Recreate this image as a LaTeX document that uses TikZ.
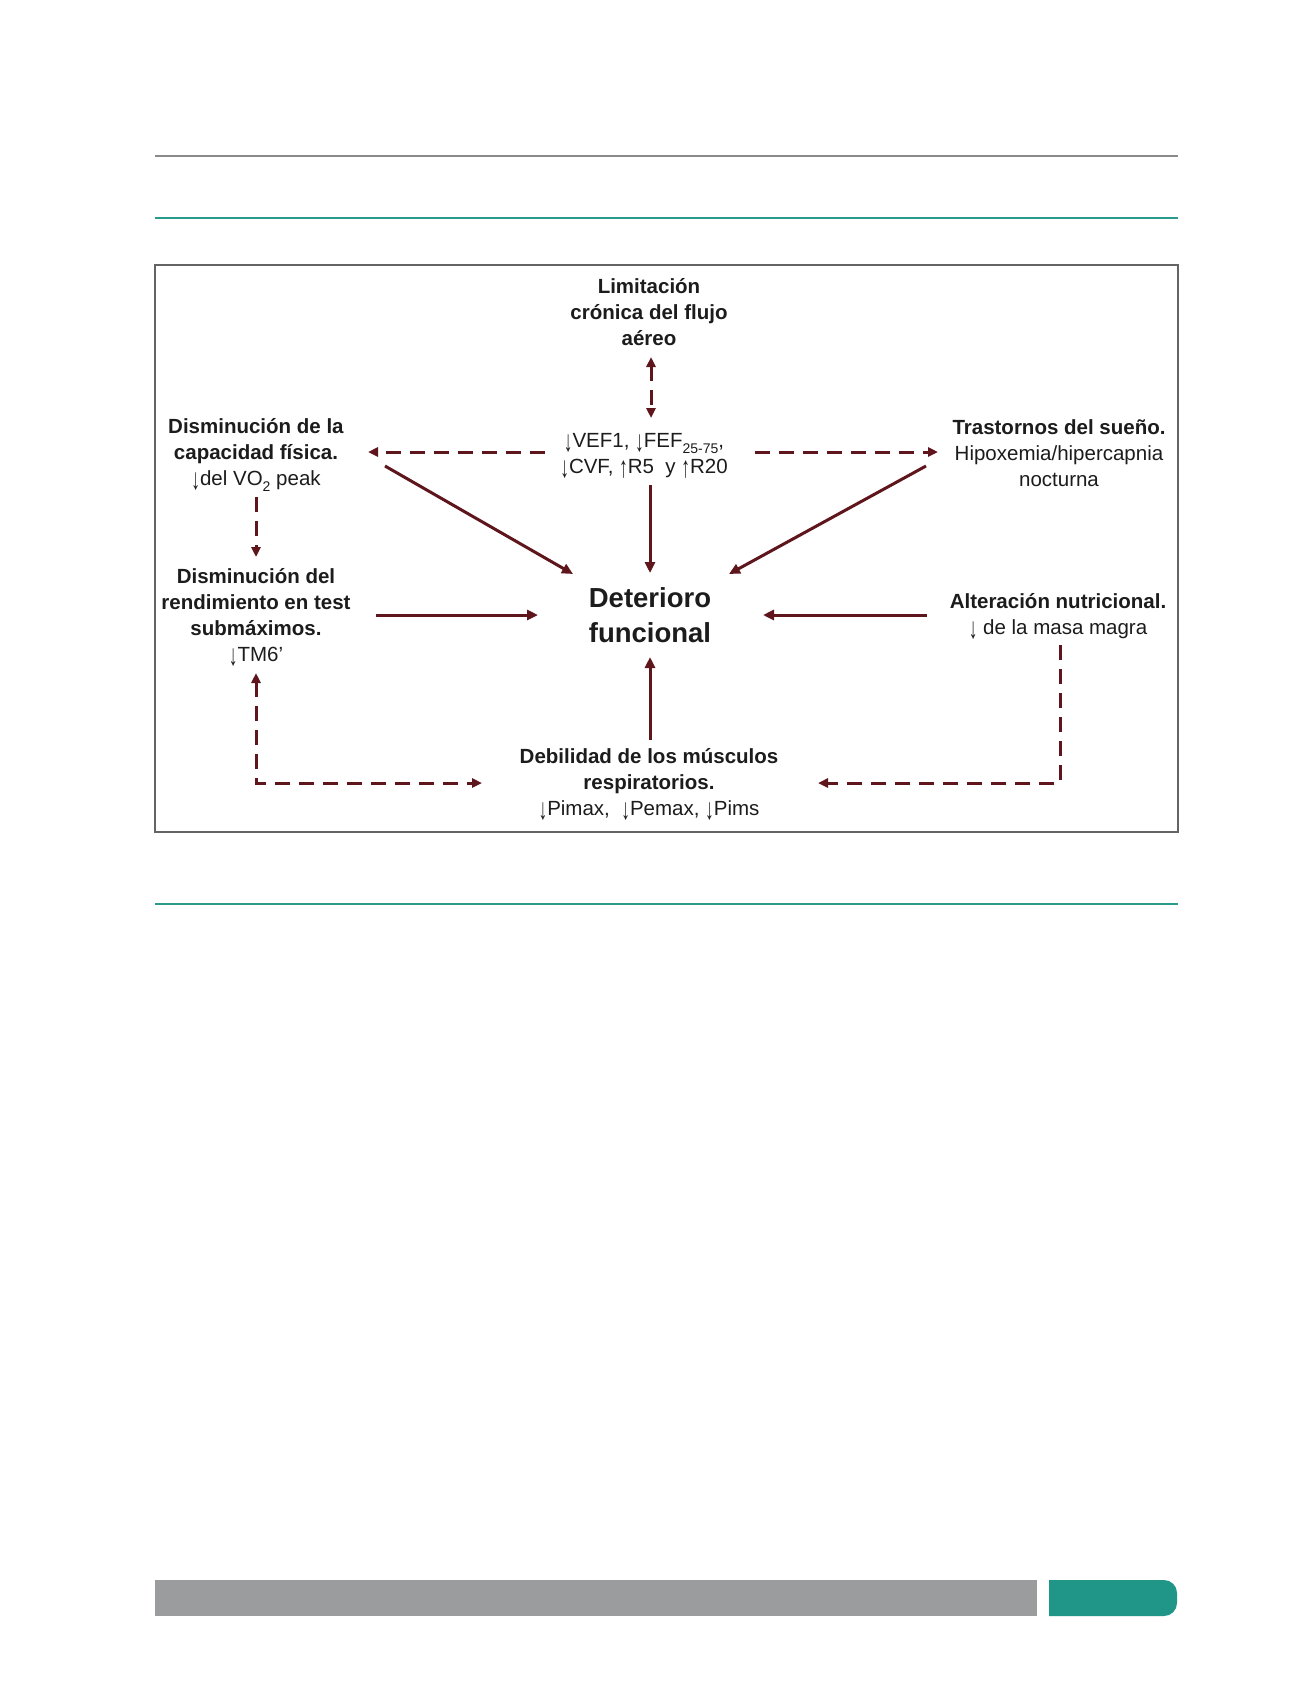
\documentclass[tikz,border=0pt]{standalone}
\usepackage{graphicx}
\usepackage{fontspec}
\setmainfont{Liberation Sans}
\usetikzlibrary{arrows.meta,calc}
\definecolor{arr}{RGB}{94,22,28}
\definecolor{txt}{RGB}{28,28,28}
\definecolor{tealline}{RGB}{42,154,140}
\definecolor{tealbar}{RGB}{31,150,136}
\definecolor{greybar}{RGB}{154,156,157}
\definecolor{greyline}{RGB}{138,138,138}
\definecolor{boxline}{RGB}{100,100,100}
\newcommand\sbs[1]{\raisebox{-0.28em}{\fontsize{14}{14}\selectfont #1}}
\newcommand\dnar{\raisebox{-0.2em}{\scalebox{0.85}[1.45]{↓}}}
\newcommand\upar{\raisebox{-0.2em}{\scalebox{0.85}[1.45]{↑}}}
\begin{document}
\begin{tikzpicture}[x=1pt,y=-1pt,
  lbl/.style={align=center,inner sep=0pt,outer sep=0pt,text=txt,font=\fontsize{20.5}{26}\selectfont},
  biglbl/.style={align=center,inner sep=0pt,outer sep=0pt,text=txt,font=\fontsize{27.5}{35}\selectfont\bfseries},
  solidarrow/.style={draw=arr,line width=3pt,-{Triangle[length=11pt,width=10pt]}},
  dasharrow/.style={draw=arr,line width=3pt,dash pattern=on 15pt off 9pt,-{Triangle[length=10pt,width=9pt]}},
  dashboth/.style={draw=arr,line width=3pt,dash pattern=on 15pt off 9pt,{Triangle[length=10pt,width=9pt]}-{Triangle[length=10pt,width=9pt]}}
]
\useasboundingbox (0,0) rectangle (1301,1703);
\fill[white] (0,0) rectangle (1301,1703);

% page decorations
\draw[greyline,line width=2.2pt] (155,156) -- (1178,156);
\draw[tealline,line width=2.5pt] (155,218) -- (1178,218);
\draw[tealline,line width=2.5pt] (155,904) -- (1178,904);
\draw[boxline,line width=2.8pt] (155,265) rectangle (1178,832);
\fill[greybar] (155,1580) rectangle (1037,1616);
\fill[tealbar] (1049,1580) -- (1120,1580) [rounded corners=13pt] -- (1177,1580) -- (1177,1616) -- (1120,1616) [sharp corners] -- (1049,1616) -- cycle;

% nodes
\node[lbl] (lim) at (649,312) {\textbf{Limitación}\\\textbf{crónica del flujo}\\\textbf{aéreo}};
\node[lbl] (spiro) at (644,456) {\dnar VEF1, \dnar FEF\sbs{25-75},\\\dnar CVF, \upar R5\ \ y \upar R20};
\node[lbl] (fis) at (256,455) {\textbf{Disminución de la}\\\textbf{capacidad física.}\\\dnar del VO\sbs{2} peak};
\node[lbl] (sueno) at (1059,453) {\textbf{Trastornos del sueño.}\\Hipoxemia/hipercapnia\\nocturna};
\node[lbl] (rend) at (256,617) {\textbf{Disminución del}\\\textbf{rendimiento en test}\\\textbf{submáximos.}\\\dnar TM6'};
\node[biglbl] (det) at (650,615) {Deterioro\\funcional};
\node[lbl] (nut) at (1058,616) {\textbf{Alteración nutricional.}\\\dnar\ de la masa magra};
\node[lbl] (deb) at (649,784) {\textbf{Debilidad de los músculos}\\\textbf{respiratorios.}\\\dnar Pimax,\ \ \dnar Pemax,\ \dnar Pims};

% dashed connectors
\draw[dashboth] ($(lim.center)+(2,45)$) -- ($(spiro.center)+(7,-38)$);
\draw[dasharrow] ($(spiro.center)+(-99,-4)$) -- ($(fis.center)+(112,-3)$);
\draw[dasharrow] ($(spiro.center)+(111,-4)$) -- ($(sueno.center)+(-121,-1)$);
\draw[dasharrow] ($(fis.center)+(0,42)$) -- ($(rend.center)+(0,-60)$);
\draw[dashboth] ($(rend.center)+(0,56)$) |- ($(deb.center)+(-167,-1)$);
\draw[dasharrow] ($(nut.center)+(2,29)$) |- ($(deb.center)+(169,-1)$);

% solid connectors
\draw[solidarrow] ($(fis.center)+(129,11)$) -- ($(det.center)+(-77,-41)$);
\draw[solidarrow] ($(sueno.center)+(-133,13)$) -- ($(det.center)+(79,-41)$);
\draw[solidarrow] ($(spiro.center)+(6,29)$) -- ($(det.center)+(0,-42)$);
\draw[solidarrow] ($(rend.center)+(120,-2)$) -- ($(det.center)+(-112,0)$);
\draw[solidarrow] ($(nut.center)+(-131,-1)$) -- ($(det.center)+(113,0)$);
\draw[solidarrow] ($(deb.center)+(1,-44)$) -- ($(det.center)+(0,42)$);
\end{tikzpicture}
\end{document}
